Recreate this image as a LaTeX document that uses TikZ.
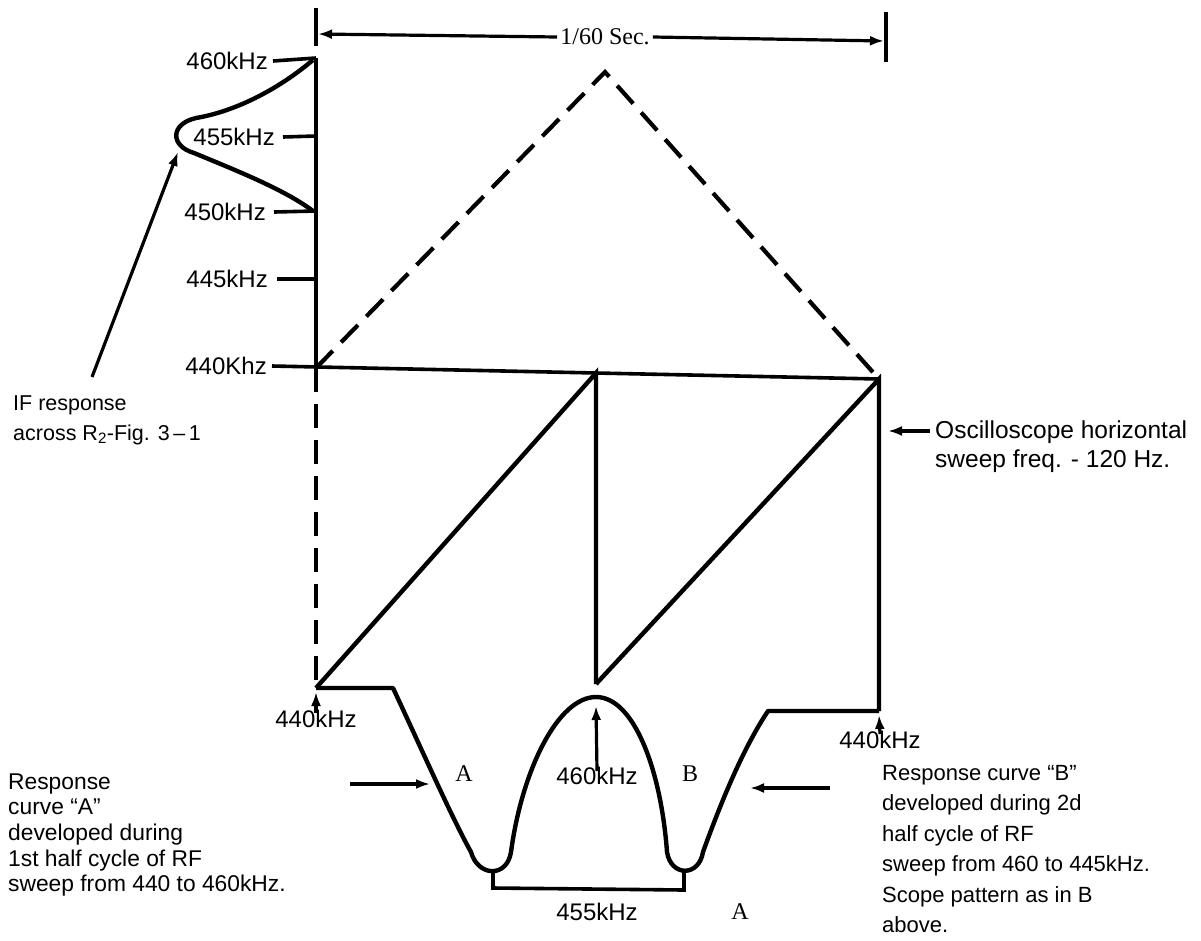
\documentclass[tikz,border=0pt]{standalone}
\usepackage{fontspec}
\setmainfont{Liberation Sans}
\newfontfamily\seriffont{Liberation Serif}
\usetikzlibrary{arrows.meta}
\begin{document}
\begin{tikzpicture}[x=1pt,y=-1pt,
  heavy/.style={line width=4.4pt},
  medium/.style={line width=3.6pt},
  dsh/.style={line width=4.2pt, dash pattern=on 24pt off 12pt},
  arr/.style={line width=3.2pt,-{Latex[length=14pt,width=10pt]}},
  lbl/.style={font=\fontsize{24}{28}\selectfont, inner sep=0pt},
  txt/.style={font=\fontsize{22.8}{25.7}\selectfont, inner sep=0pt},
  slbl/.style={font=\seriffont\fontsize{24}{28}\selectfont, inner sep=0pt}]
\useasboundingbox (0,0) rectangle (1201,940);

% --- key points
\coordinate (ltt) at (316,8);
\coordinate (ltb) at (316,46);
\coordinate (rtt) at (886,12);
\coordinate (rtb) at (886,62);
\coordinate (tipL) at (318,34);
\coordinate (tipR) at (884,41);
\coordinate (P460) at (316,58);
\coordinate (P455) at (316,136);
\coordinate (P450) at (316,211);
\coordinate (P445) at (316,279);
\coordinate (O) at (316,368);
\coordinate (M) at (596,373);
\coordinate (R) at (879,379);
\coordinate (apex) at (605,72);
\coordinate (BL) at (316,688);
\coordinate (MB) at (596,684);
\coordinate (RB) at (879,711);
\coordinate (plL) at (393,688);
\coordinate (plR) at (768,711);
\coordinate (lobeL) at (493,869);
\coordinate (lobeR) at (684,869);
\coordinate (cL) at (493,888);
\coordinate (cR) at (684,890);
\coordinate (peak) at (596,697);

% --- dimension bar
\draw[heavy] (ltt) -- (ltb);
\draw[heavy] (rtt) -- (rtb);
\node[slbl] (sec) at (605,37) {1/60 Sec.};
\draw[arr] ([xshift=-3pt]sec.west) -- (tipL);
\draw[arr] ([xshift=3pt]sec.east) -- (tipR);

% --- frequency axis
\draw[heavy] (P460) -- (O);
\node[lbl, anchor=east] (t460) at (268,61) {460kHz};
\node[lbl, anchor=east] (t455) at (275,137) {455kHz};
\node[lbl, anchor=east] (t450) at (266,212) {450kHz};
\node[lbl, anchor=east] (t445) at (268,279) {445kHz};
\node[lbl, anchor=east] (t440) at (267,366) {440Khz};
\draw[medium] ([xshift=5pt]t460.east) -- (P460);
\draw[medium] ([xshift=8pt]t455.east) -- (P455);
\draw[medium] ([xshift=8pt]t450.east) -- (P450);
\draw[medium] ([xshift=9pt]t445.east) -- (P445);
\draw[medium] ([xshift=5pt]t440.east) -- (M) -- (R);

% --- IF response curve
\draw[heavy] (313,60) .. controls (275,92) and (232,112) .. (196,118)
  .. controls (170,124) and (170,146) .. (194,153)
  .. controls (240,172) and (285,190) .. (313,211);
\coordinate (ifhead) at (178,152);
\coordinate (iftail) at (92,377);
\draw[arr] (iftail) -- (ifhead);
\node[lbl, font=\fontsize{21.5}{25}\selectfont, anchor=west, align=left] (iftxt) at (13,420) {IF response\\[5pt]across R\textsubscript{2}-Fig. 3\,–\,1};

% --- dashed triangle and dashed vertical
\draw[dsh] (O) -- (apex) -- (R);
\draw[dsh] (O) -- (BL);

% --- sawtooth
\draw[heavy, line join=miter] (BL) -- (M) -- (MB);
\draw[heavy, line join=miter] (MB) -- (R) -- (RB);

% --- oscilloscope note
\coordinate (oscT) at (930,431);
\coordinate (oscH) at (888,431);
\draw[arr] (oscT) -- (oscH);
\node[lbl, font=\fontsize{24.5}{29}\selectfont, anchor=west, align=left] (osc) at (935,447) {Oscilloscope horizontal\\sweep freq. - 120 Hz.};

% --- response curves
\draw[heavy, line join=round] (BL) -- (plL)
  .. controls (422,750) and (452,818) .. (471,852)
  .. controls (478,877) and (507,878) .. (511,852)
  .. controls (522,770) and (558,697) .. (peak)
  .. controls (634,697) and (661,770) .. (667,852)
  .. controls (671,877) and (699,877) .. (703,852)
  .. controls (720,805) and (742,750) .. (plR) -- (RB);
\draw[medium] (lobeL) -- (cL) -- (cR) -- (lobeR);

\node[lbl] (f455) at (597,912) {455kHz};
\node[lbl] (f460) at (597,776) {460kHz};
\draw[arr] ([yshift=-4pt]f460.north) -- (596,706);
\node[lbl] (bl440) at (316,719) {440kHz};
\draw[arr] ([yshift=-3pt]bl440.north) -- (316,692);
\node[lbl] (br440) at (880,740) {440kHz};
\draw[arr] ([yshift=-3pt]br440.north) -- (879,715);

\node[slbl] (lA) at (464,774) {A};
\node[slbl] (lB) at (690,774) {B};
\node[slbl] (lA2) at (740,912) {A};

\coordinate (laT) at (350,784);
\coordinate (laH) at (430,784);
\draw[arr] (laT) -- (laH);
\coordinate (raT) at (830,788);
\coordinate (raH) at (750,788);
\draw[arr] (raT) -- (raH);

\node[txt, anchor=west, align=left] (txtA) at (8,835)
 {Response\\curve “A”\\developed during\\1st half cycle of RF\\sweep from 440 to 460kHz.};
\node[txt, anchor=west, align=left, font=\fontsize{22}{30.5}\selectfont] (txtB) at (882,849)
 {Response curve “B”\\developed during 2d\\half cycle of RF\\sweep from 460 to 445kHz.\\Scope pattern as in B\\above.};
\end{tikzpicture}
\end{document}
